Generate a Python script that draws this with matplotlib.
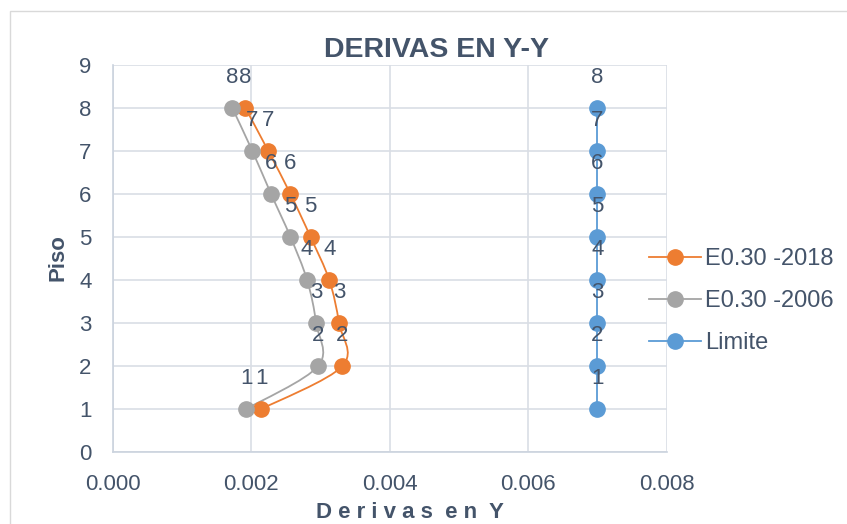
import matplotlib
matplotlib.use("Agg")
import matplotlib.pyplot as plt
from matplotlib.path import Path
from matplotlib.patches import PathPatch, Rectangle
from matplotlib.lines import Line2D
import numpy as np

plt.rcParams['font.family'] = ['Liberation Sans', 'DejaVu Sans']

# Storey numbers and inter-storey drifts in the Y direction
pisos = [1, 2, 3, 4, 5, 6, 7, 8]
deriva_2018 = [0.00215, 0.00332, 0.00327, 0.00313, 0.00286, 0.00257, 0.00225, 0.00192]
deriva_2006 = [0.00193, 0.00297, 0.00294, 0.00281, 0.00257, 0.00229, 0.00202, 0.00173]
limite = [0.007, 0.007, 0.007, 0.007, 0.007, 0.007, 0.007, 0.007]

series_names = ["E0.30 -2018", "E0.30 -2006", "Limite"]
x_ticks = [0.000, 0.002, 0.004, 0.006, 0.008]
x_tick_labels = ["0.000", "0.002", "0.004", "0.006", "0.008"]
y_ticks = [0, 1, 2, 3, 4, 5, 6, 7, 8, 9]

TEXT = '#44546A'
GRID = '#D9DEE5'
C_ORANGE = '#ED7D31'
C_GRAY = '#A5A5A5'
C_BLUE = '#5B9BD5'


def smooth_path(xs, ys):
    """Bezier path through the points (Catmull-Rom style smoothing)."""
    pts = np.column_stack([xs, ys]).astype(float)
    n = len(pts)
    verts = [pts[0]]
    codes = [Path.MOVETO]
    for i in range(n - 1):
        p0 = pts[i - 1] if i > 0 else pts[i]
        p1 = pts[i]
        p2 = pts[i + 1]
        p3 = pts[i + 2] if i + 2 < n else pts[i + 1]
        c1 = p1 + (p2 - p0) / 6.0
        c2 = p2 - (p3 - p1) / 6.0
        verts += [c1, c2, p2]
        codes += [Path.CURVE4] * 3
    return Path(verts, codes)


fig = plt.figure(figsize=(8.47, 5.24), dpi=100)
fig.patch.set_facecolor('white')

# chart area border
fig.patches.append(Rectangle((10 / 847, -0.1), 1.2, 1 - 11 / 524 + 0.1,
                             transform=fig.transFigure, fill=False,
                             edgecolor='#D9D9D9', linewidth=1.0))

ax = fig.add_axes([112.5 / 847, 1 - 452 / 524, (666.5 - 112.5) / 847, (452 - 65) / 524])

ax.set_xlim(0, 0.008)
ax.set_ylim(0, 9)
ax.set_xticks(x_ticks)
ax.set_xticklabels(x_tick_labels)
ax.set_yticks(y_ticks)
ax.grid(True, color=GRID, linewidth=1.2)
ax.set_axisbelow(True)
for side in ['top', 'right']:
    ax.spines[side].set_visible(False)
for side in ['left', 'bottom']:
    ax.spines[side].set_color('#CBD3DE')
    ax.spines[side].set_linewidth(1.2)
ax.tick_params(length=0, labelsize=16, labelcolor=TEXT)
ax.tick_params(axis='x', pad=16)
ax.tick_params(axis='y', pad=15)

series = [(deriva_2018, C_ORANGE, True), (deriva_2006, C_GRAY, True), (limite, C_BLUE, False)]
handles = []
for (xs, color, smooth), name in zip(series, series_names):
    if smooth:
        ax.add_patch(PathPatch(smooth_path(xs, pisos), facecolor='none',
                               edgecolor=color, linewidth=1.3, zorder=2))
    else:
        ax.plot(xs, pisos, color=color, linewidth=1.3, zorder=2)
    ax.plot(xs, pisos, linestyle='none', marker='o', markersize=11,
            color=color, zorder=3)
    for x, y in zip(xs, pisos):
        ax.annotate(str(y), (x, y), xytext=(0, 22), textcoords='offset points',
                    ha='center', va='center', fontsize=16, color=TEXT, zorder=4)
    handles.append(Line2D([], [], color=color, linewidth=1.3, marker='o',
                          markersize=11, label=name))

fig.legend(handles=handles, loc='center left',
           bbox_to_anchor=(637 / 847, 1 - 301 / 524), bbox_transform=fig.transFigure,
           frameon=False, fontsize=17, labelcolor=TEXT, borderpad=0,
           handlelength=2.2, handletextpad=0.2, labelspacing=0.85)

fig.text(436 / 847, 1 - 50 / 524, "DERIVAS EN Y-Y", ha='center', va='center',
         fontsize=20.5, fontweight='bold', color=TEXT)
fig.text(58 / 847, 1 - 258 / 524, "Piso", ha='center', va='center', rotation=90,
         fontsize=16, fontweight='bold', color=TEXT)
fig.text(410 / 847, 1 - 512 / 524, "D e r i v a s  e n  Y", ha='center', va='center',
         fontsize=16, fontweight='bold', color=TEXT)

fig.savefig("out.png", dpi=100)
